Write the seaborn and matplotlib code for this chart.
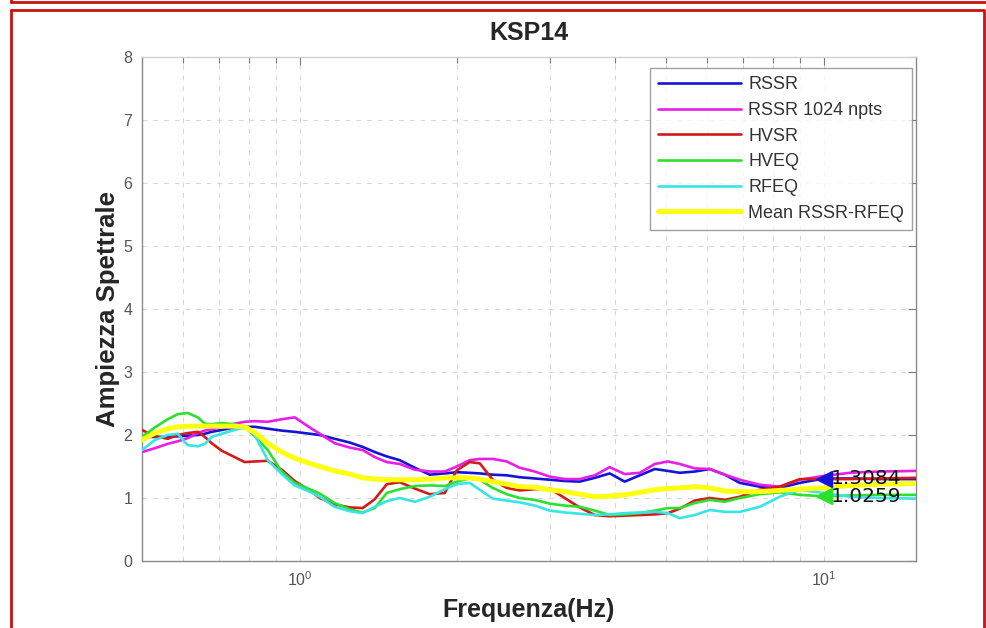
import numpy as np
import pandas as pd
import matplotlib
matplotlib.use("Agg")
import matplotlib.pyplot as plt
from matplotlib.lines import Line2D
from matplotlib.ticker import FixedLocator, NullFormatter, LogFormatterMathtext
import seaborn as sns

# Frequency axis (Hz) shared by all spectral ratio curves
freq = [0.50, 0.529, 0.560, 0.585, 0.611, 0.639, 0.659, 0.679, 0.710, 0.751,
        0.785, 0.821, 0.869, 0.924, 0.978, 1.045, 1.092, 1.166, 1.246, 1.319,
        1.390, 1.466, 1.552, 1.658, 1.771, 1.891, 1.994, 2.110, 2.206, 2.335,
        2.483, 2.630, 2.809, 2.999, 3.204, 3.422, 3.656, 3.905, 4.171, 4.456,
        4.759, 5.041, 5.312, 5.674, 6.060, 6.474, 6.915, 7.548, 8.243, 9.000,
        10.0, 11.21, 12.79, 15.0]

rssr = [1.97, 1.97, 1.97, 1.98, 1.99, 2.00, 2.02, 2.05, 2.08, 2.12,
        2.13, 2.13, 2.10, 2.07, 2.05, 2.02, 2.00, 1.94, 1.88, 1.81,
        1.73, 1.66, 1.60, 1.48, 1.37, 1.39, 1.41, 1.40, 1.39, 1.37,
        1.36, 1.33, 1.31, 1.29, 1.27, 1.26, 1.32, 1.39, 1.26, 1.36,
        1.46, 1.43, 1.40, 1.42, 1.46, 1.37, 1.24, 1.18, 1.16, 1.24,
        1.3084, 1.31, 1.30, 1.30]

rssr_1024 = [1.73, 1.79, 1.86, 1.90, 1.95, 2.03, 2.07, 2.09, 2.13, 2.18,
             2.21, 2.22, 2.21, 2.25, 2.28, 2.12, 2.02, 1.87, 1.80, 1.76,
             1.65, 1.57, 1.54, 1.45, 1.42, 1.42, 1.50, 1.60, 1.62, 1.62,
             1.58, 1.48, 1.42, 1.34, 1.30, 1.30, 1.36, 1.49, 1.38, 1.40,
             1.54, 1.58, 1.54, 1.47, 1.46, 1.37, 1.29, 1.21, 1.18, 1.29,
             1.35, 1.40, 1.42, 1.43]

hvsr = [2.08, 1.98, 1.94, 2.00, 2.03, 2.05, 1.97, 1.87, 1.75, 1.65,
        1.57, 1.58, 1.59, 1.45, 1.27, 1.12, 1.00, 0.90, 0.85, 0.84,
        0.98, 1.22, 1.25, 1.15, 1.06, 1.08, 1.44, 1.57, 1.55, 1.29,
        1.16, 1.12, 1.14, 1.15, 1.00, 0.85, 0.73, 0.71, 0.72, 0.73,
        0.74, 0.76, 0.83, 0.96, 1.00, 0.97, 1.02, 1.13, 1.18, 1.30,
        1.30, 1.30, 1.31, 1.32]

hveq = [1.97, 2.12, 2.25, 2.33, 2.35, 2.28, 2.18, 2.17, 2.19, 2.17,
        2.13, 1.98, 1.76, 1.42, 1.24, 1.14, 1.07, 0.92, 0.82, 0.77,
        0.84, 1.08, 1.14, 1.19, 1.20, 1.19, 1.26, 1.31, 1.29, 1.16,
        1.06, 1.00, 0.97, 0.91, 0.88, 0.86, 0.80, 0.73, 0.74, 0.76,
        0.80, 0.84, 0.84, 0.92, 0.97, 0.94, 1.00, 1.06, 1.09, 1.05,
        1.0259, 1.04, 1.05, 1.05]

rfeq = [1.76, 1.92, 2.00, 2.02, 1.84, 1.82, 1.86, 1.97, 2.02, 2.08,
        2.12, 2.00, 1.60, 1.38, 1.20, 1.10, 1.02, 0.86, 0.79, 0.76,
        0.86, 0.95, 1.00, 0.94, 1.02, 1.14, 1.22, 1.24, 1.13, 0.99,
        0.96, 0.93, 0.88, 0.80, 0.77, 0.75, 0.73, 0.74, 0.76, 0.77,
        0.78, 0.76, 0.68, 0.73, 0.81, 0.78, 0.78, 0.86, 1.02, 1.13,
        1.08, 1.02, 1.00, 0.99]

mean_rssr_rfeq = [1.92, 2.03, 2.10, 2.13, 2.14, 2.14, 2.14, 2.14, 2.14, 2.14,
                  2.13, 2.04, 1.87, 1.73, 1.63, 1.55, 1.50, 1.43, 1.38, 1.32,
                  1.30, 1.29, 1.29, 1.29, 1.30, 1.32, 1.32, 1.32, 1.30, 1.26,
                  1.22, 1.18, 1.17, 1.13, 1.10, 1.06, 1.02, 1.03, 1.05, 1.09,
                  1.13, 1.15, 1.16, 1.18, 1.16, 1.11, 1.10, 1.10, 1.12, 1.14,
                  1.16, 1.20, 1.22, 1.23]

series_names = ["RSSR", "RSSR 1024 npts", "HVSR", "HVEQ", "RFEQ", "Mean RSSR-RFEQ"]
series_values = [rssr, rssr_1024, hvsr, hveq, rfeq, mean_rssr_rfeq]
series_colors = ["#1414d8", "#e81ee8", "#d41a1a", "#2ee02e", "#38e4e4", "#ffff10"]
series_widths = [1.9, 1.9, 1.9, 1.9, 1.9, 3.6]

# Peak annotations at 10 Hz
peak_freq = [10.0, 10.0]
peak_value = [1.3084, 1.0259]
peak_colors = ["#1414d8", "#2ee02e"]

sns.set_theme(style="white")
plt.rcParams["font.family"] = ["Liberation Sans", "DejaVu Sans"]

fig = plt.figure(figsize=(9.87, 6.28), dpi=100)
ax = fig.add_axes([142 / 987, 1 - 561 / 628, (916 - 142) / 987, (561 - 57) / 628])

df = pd.DataFrame({"freq": freq})
for name, vals, col, lw in zip(series_names, series_values, series_colors, series_widths):
    df[name] = vals
    sns.lineplot(data=df, x="freq", y=name, color=col, linewidth=lw, label=name,
                 ax=ax, sort=False, zorder=3)

for f, v, c in zip(peak_freq, peak_value, peak_colors):
    ax.plot([f], [v], marker="<", markersize=12, color=c, linestyle="none", zorder=5)
    ax.text(f * 1.03, v, f"{v:.4f}", fontsize=14.5, color="#111111",
            family=["DejaVu Sans"], va="center", ha="left", zorder=6)

ax.set_xscale("log")
ax.set_xlim(0.5, 15)
ax.set_ylim(0, 8)

major_x = [1, 10]
minor_x = [0.5, 0.6, 0.7, 0.8, 0.9, 2, 3, 4, 5, 6, 7, 8, 9]
ax.xaxis.set_major_locator(FixedLocator(major_x))
ax.xaxis.set_minor_locator(FixedLocator(minor_x))
ax.xaxis.set_major_formatter(LogFormatterMathtext())
ax.xaxis.set_minor_formatter(NullFormatter())
ax.set_yticks(range(0, 9))

ax.tick_params(axis="both", which="both", direction="in", top=True, right=True,
               colors="#7a7a7a", labelcolor="#555555", labelsize=11.5)
ax.tick_params(axis="both", which="major", length=6, width=0.8, pad=7)
ax.tick_params(axis="x", which="minor", length=4, width=0.8)

# Dotted grid in the style of a numerical computing package
grid_kw = dict(color="#d6d6d6", linewidth=0.7, linestyle=(0, (5, 6)), zorder=0)
for yv in range(1, 8):
    ax.axhline(yv, **grid_kw)
for xv in minor_x[1:] + major_x:
    ax.axvline(xv, **grid_kw)

for side, sp in ax.spines.items():
    sp.set_color("#8a8a8a")
    sp.set_linewidth(1.0)
ax.spines["top"].set_color("#d0d0d0")

ax.set_title("KSP14", fontsize=18, fontweight="bold", pad=12)
ax.set_xlabel("Frequenza(Hz)", fontsize=18, fontweight="bold", labelpad=6)
ax.set_ylabel("Ampiezza Spettrale", fontsize=18.5, fontweight="bold", labelpad=2)

leg = ax.legend(loc="upper right", bbox_to_anchor=(0.995, 0.978), fontsize=13,
                frameon=True, fancybox=False, edgecolor="#8a8a8a",
                handlelength=4.6, handletextpad=0.4, labelspacing=0.48,
                borderpad=0.45, borderaxespad=0.0)
leg.get_frame().set_linewidth(1.0)
for t in leg.get_texts():
    t.set_color("#333333")

# Red page frames around the figure
red = "#cc1010"
fig.add_artist(Line2D([11 / 987, 1.0], [1 - 2 / 628, 1 - 2 / 628], color=red, lw=2,
                      transform=fig.transFigure))
fig.add_artist(Line2D([11 / 987, 11 / 987], [1 - 2 / 628, 1.0], color=red, lw=2,
                      transform=fig.transFigure))
fig.add_artist(Line2D([11 / 987, 984 / 987, 984 / 987], [1 - 10 / 628, 1 - 10 / 628, 0.0],
                      color=red, lw=2, transform=fig.transFigure))
fig.add_artist(Line2D([11 / 987, 11 / 987], [1 - 10 / 628, 0.0], color=red, lw=2,
                      transform=fig.transFigure))

fig.savefig("out.png", dpi=100)
